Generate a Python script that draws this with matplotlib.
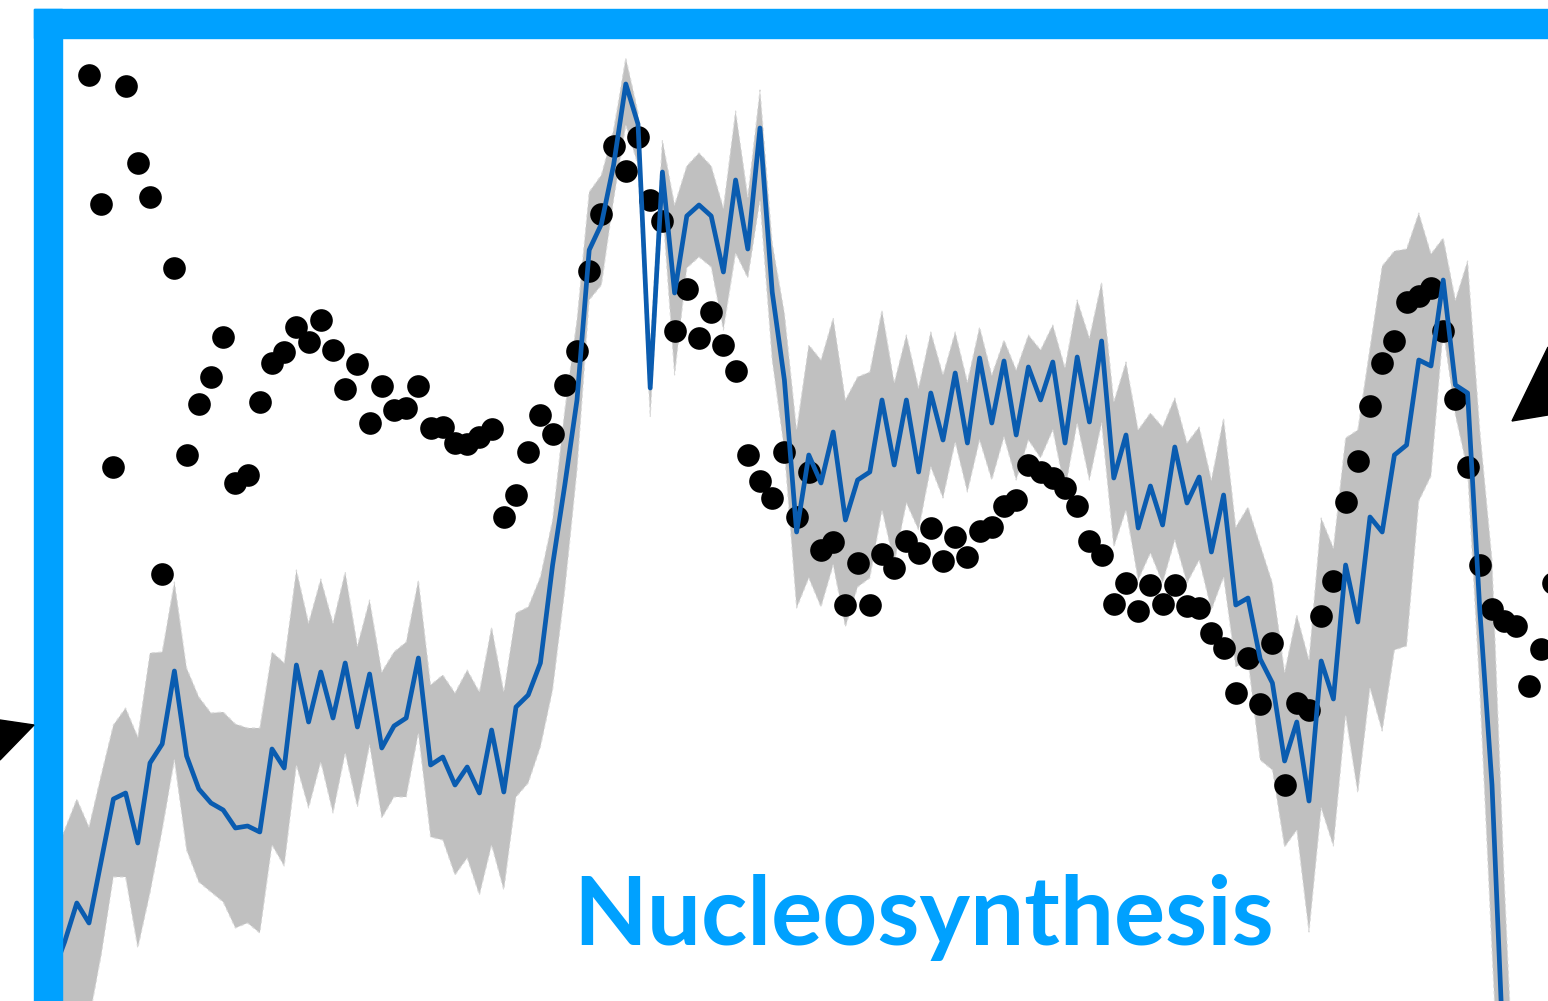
import numpy as np
import matplotlib
matplotlib.use("Agg")
import matplotlib.pyplot as plt
from matplotlib.patches import Rectangle, Polygon
from matplotlib.transforms import Affine2D

W, H = 1548, 1001

# model curve and its band, first point sits three steps left of the first dot
model_start = -3
model = [26, 59, 98, 78, 140, 202, 208, 158, 238, 257, 330, 245, 212, 198, 191, 173, 175, 169, 252, 233,
         336, 279, 329, 283, 338, 274, 327, 253, 275, 283, 343, 236, 244, 216, 234, 208, 271, 209, 294, 306,
         338, 436, 516, 601, 751, 777, 836, 917, 877, 613, 829, 708, 785, 796, 785, 729, 821, 752, 873, 709,
         621, 469, 546, 518, 569, 481, 521, 529, 601, 536, 601, 529, 608, 561, 628, 558, 643, 578, 640, 566,
         634, 601, 639, 558, 644, 579, 660, 523, 566, 473, 515, 476, 554, 498, 524, 449, 506, 396, 403, 342,
         318, 240, 279, 200, 340, 302, 436, 379, 484, 469, 546, 556, 641, 635, 721, 616, 608, 391, 216, -74,
         -299]
upper = [141, 171, 202, 174, 226, 276, 293, 264, 348, 349, 419, 333, 304, 288, 289, 277, 273, 273, 349, 338,
         431, 378, 422, 378, 429, 355, 401, 329, 349, 359, 421, 316, 326, 308, 331, 309, 374, 309, 388, 394,
         424, 481, 591, 681, 809, 826, 871, 943, 889, 651, 861, 796, 835, 848, 835, 793, 890, 804, 911, 758,
         688, 571, 656, 641, 683, 601, 624, 629, 691, 618, 666, 613, 669, 626, 669, 619, 674, 626, 661, 631,
         666, 651, 676, 633, 701, 663, 719, 599, 639, 571, 588, 574, 603, 558, 574, 521, 583, 474, 494, 456,
         418, 329, 386, 341, 483, 453, 563, 571, 653, 735, 750, 752, 788, 747, 763, 701, 740, 571, 441, 121,
         -149]
lower = [-99, -99, -79, -19, 46, 124, 124, 53, 108, 171, 241, 151, 119, 109, 99, 73, 78, 68, 156, 135,
         236, 193, 239, 188, 248, 194, 256, 183, 204, 204, 268, 164, 161, 126, 143, 106, 156, 111, 204, 218,
         254, 311, 411, 531, 701, 716, 801, 876, 836, 584, 796, 626, 733, 744, 734, 671, 748, 723, 801, 641,
         551, 393, 423, 394, 436, 374, 414, 423, 491, 438, 498, 471, 534, 503, 559, 509, 561, 521, 564, 521,
         561, 543, 571, 511, 578, 521, 578, 454, 491, 421, 448, 418, 461, 418, 441, 391, 424, 334, 341, 241,
         231, 154, 171, 69, 193, 155, 286, 208, 313, 270, 351, 355, 500, 525, 671, 586, 531, 311, 51, -199,
         -449]

# measured points
dots = [926, 797, 534, 915, 838, 804, 427, 733, 546, 597, 624, 664, 518, 526, 599, 638, 649, 674, 659, 681,
        651, 612, 637, 578, 615, 591, 593, 615, 573, 574, 558, 557, 564, 572, 484, 506, 549, 586, 567, 616,
        650, 730, 787, 855, 830, 864, 801, 780, 670, 712, 663, 689, 656, 630, 546, 520, 503, 549, 484, 529,
        451, 459, 396, 438, 396, 447, 433, 460, 448, 473, 440, 464, 444, 470, 474, 495, 501, 536, 529, 523,
        513, 495, 460, 446, 397, 418, 390, 416, 397, 416, 395, 393, 368, 353, 308, 343, 297, 358, 216, 298,
        291, 385, 420, 499, 540, 595, 638, 660, 699, 705, 713, 670, 602, 534, 436, 392, 380, 375, 315, 352,
        418]

label = "Nucleosynthesis"

x_model = np.arange(len(model)) + model_start
x_dots = np.arange(len(dots))

frame_blue = "#00a1ff"
line_blue = "#0a5cb0"
band_gray = "#c0c0c0"

fig = plt.figure(figsize=(W / 100, H / 100), dpi=100)
# pixel coords, origin top-left (for the frame and pointers only)
px = Affine2D().scale(1 / W, -1 / H).translate(0, 1) + fig.transFigure

ax = fig.add_axes([62 / W, 0, (W - 62) / W, (H - 38) / H])
step = 12.2
ax.set_xlim(-27 / step, (W - 89) / step)
ax.set_ylim(0, H - 38)
ax.axis("off")

ax.fill_between(x_model, lower, upper, color=band_gray, lw=0, zorder=1)
ax.plot(x_model, upper, color="#d9d9d9", lw=0.8, ls=(0, (3, 3)), zorder=1.5)
ax.plot(x_model, lower, color="#d9d9d9", lw=0.8, ls=(0, (3, 3)), zorder=1.5)
ax.plot(x_dots, dots, "o", color="black", ms=16.3, mew=0, zorder=2)
ax.plot(x_model, model, color=line_blue, lw=3.4, zorder=3)

# blue frame
fig.patches.append(Rectangle((34, 9), 28, H - 9, transform=px, color=frame_blue, zorder=5))
fig.patches.append(Rectangle((34, 9), W - 34, 29, transform=px, color=frame_blue, zorder=5))
# pointers
fig.patches.append(Polygon([(0, 720), (34, 725), (0, 760)], closed=True, transform=px,
                           color="black", zorder=5))
fig.patches.append(Polygon([(1512, 421), (1548, 347), (1548, 415)], closed=True, transform=px,
                           color="black", zorder=5))

fig.text(924, 945, label, transform=px, ha="center", va="baseline",
         fontsize=69, fontweight="bold", family=["Lato", "DejaVu Sans"], color=frame_blue)

fig.savefig("out.png", dpi=100)
